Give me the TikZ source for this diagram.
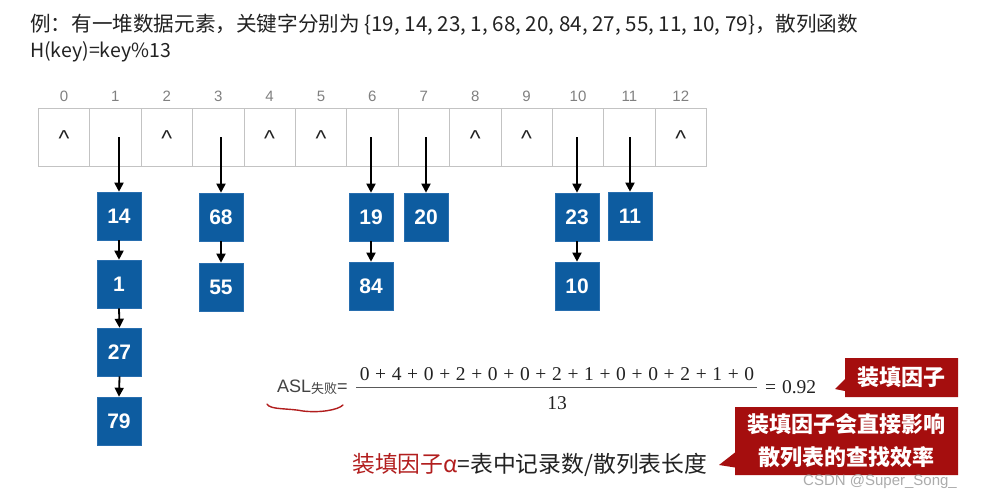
\documentclass[tikz,border=0pt]{standalone}
\usepackage{fontspec}
\setmainfont{Liberation Sans}
\newfontfamily\cjk{Noto Sans CJK SC}
\newfontfamily\serifnum{Liberation Serif}
\usetikzlibrary{arrows.meta,shapes.callouts}
\definecolor{boxblue}{RGB}{13,92,160}
\definecolor{boxedge}{RGB}{40,110,175}
\definecolor{calred}{RGB}{165,14,14}
\definecolor{txtred}{RGB}{178,30,30}
\definecolor{cellgray}{RGB}{195,195,195}
\definecolor{ink}{RGB}{34,34,34}
\newcommand\plusgap{\hspace{0.29em}+\hspace{0.29em}}
\begin{document}
\begin{tikzpicture}[x=1pt,y=-1pt,
  cell/.style={draw=cellgray, line width=0.8pt, minimum width=51.4pt, minimum height=58pt, inner sep=0pt, outer sep=0pt},
  idx/.style={text=gray, font=\fontsize{15}{15}\selectfont},
  nil/.style={text=ink, font=\fontsize{23}{23}\selectfont, inner sep=0pt},
  elem/.style={fill=boxblue, draw=boxedge, line width=0.6pt, minimum width=44pt, minimum height=48pt, inner sep=0pt, text=white, font=\fontsize{21}{21}\selectfont\bfseries},
  link/.style={line width=1.8pt, -{Triangle[length=9pt,width=9pt]}},
  callbox/.style={rectangle callout, fill=calred, text=white, font=\cjk\bfseries\fontsize{22}{33}\selectfont, align=center, inner sep=0pt},
  plain/.style={inner sep=0pt, text=ink}
]
\useasboundingbox[fill=white] (0,0) rectangle (982,490);

% title
\node[plain, anchor=base west] (t1) at (30,31) {\cjk\fontsize{20.6}{20.6}\selectfont 例：有一堆数据元素，关键字分别为 \{19, 14, 23, 1, 68, 20, 84, 27, 55, 11, 10, 79\}，散列函数};
\node[plain, anchor=base west] (t2) at (30,57) {\cjk\fontsize{19.5}{19.5}\selectfont H(key)=key\%13};

% table
\foreach \i in {0,...,12}{
  \node[cell] (c\i) at ({64+51.4*\i},137) {};
  \node[idx] (i\i) at ({64+51.4*\i},96) {\i};
}
\foreach \i in {0,2,4,5,8,9,12}{
  \node[nil] (n\i) at ({64+51.4*\i},138.5) {\textasciicircum};
}

% elements
\node[elem] (b14) at (119,216) {14};
\node[elem] (b1)  at (119,284) {1};
\node[elem] (b27) at (119.5,352) {27};
\node[elem] (b79) at (119,421) {79};
\node[elem] (b68) at (221,217) {68};
\node[elem] (b55) at (221,287) {55};
\node[elem] (b19) at (371,217) {19};
\node[elem] (b84) at (371,286) {84};
\node[elem] (b20) at (426,217) {20};
\node[elem] (b23) at (577,217) {23};
\node[elem] (b10) at (577,286) {10};
\node[elem] (b11) at (630,216) {11};

% links
\draw[link] (b14.north |- c1.center) -- (b14.north);
\draw[link] (b68.north |- c3.center) -- (b68.north);
\draw[link] (b19.north |- c6.center) -- (b19.north);
\draw[link] (b20.north |- c7.center) -- (b20.north);
\draw[link] (b23.north |- c10.center) -- (b23.north);
\draw[link] (b11.north |- c11.center) -- (b11.north);
\draw[link] (b14.south) -- (b1.north);
\draw[link] (b1.south) -- (b27.north);
\draw[link] (b27.south) -- (b79.north);
\draw[link] (b68.south) -- (b55.north);
\draw[link] (b19.south) -- (b84.north);
\draw[link] (b23.south) -- (b10.north);

% formula
\node[plain, anchor=base west, text=ink!85] (asl) at (277,392) {\fontsize{18}{18}\selectfont ASL\raisebox{-1.5pt}{\cjk\fontsize{13}{13}\selectfont 失败}=};
\coordinate (fl) at (356,387);
\coordinate (fr) at (757,387);
\draw[ink!75, line width=0.8pt] (fl) -- (fr);
\node[plain, anchor=base] (num) at (557,380) {\serifnum\fontsize{19.5}{19.5}\selectfont 0\plusgap 4\plusgap 0\plusgap 2\plusgap 0\plusgap 0\plusgap 2\plusgap 1\plusgap 0\plusgap 0\plusgap 2\plusgap 1\plusgap 0};
\node[plain, anchor=base] (den) at (557,409) {\serifnum\fontsize{19.5}{19.5}\selectfont 13};
\node[plain, anchor=base west] (res) at (765,393) {\serifnum\fontsize{19.5}{19.5}\selectfont =\hspace{0.3em}0.92};
\draw[txtred, line width=1.4pt, line cap=round] (267,404) .. controls (270,410) and (288,408) .. (303,411) .. controls (320,413) and (338,410) .. (343,405);

% load factor definition
\node[plain, anchor=base west] (alpha) at (352,472) {\cjk\fontsize{22.8}{22.8}\selectfont\textcolor{txtred}{装填因子α}=表中记录数/散列表长度};

% callouts
\node[callbox, minimum width=113pt, minimum height=39pt, callout pointer width=12pt, callout absolute pointer={(835,389)}] (k1) at (901.5,377.5) {装填因子};
\node[callbox, minimum width=223pt, minimum height=68pt, callout pointer width=15pt, callout absolute pointer={(719,465)}] (k2) at (846.5,441) {装填因子会直接影响\\散列表的查找效率};

% watermark
\node[inner sep=0pt, anchor=base west, text=gray!65] (wm) at (803,485) {\fontsize{15}{15}\selectfont CSDN @Super\_Song\_};
\end{tikzpicture}
\end{document}
